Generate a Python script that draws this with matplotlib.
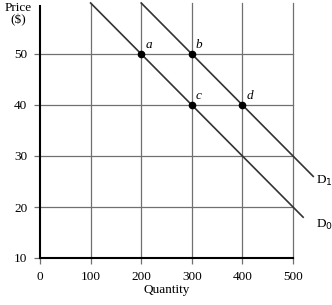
import matplotlib.pyplot as plt

plt.rcParams["font.family"] = ["Liberation Serif", "DejaVu Serif"]

# demand curves (quantity, price)
d0_q = [100, 520]
d0_p = [60, 18]
d1_q = [200, 540]
d1_p = [60, 26]

# labelled points
pt_names = ["a", "b", "c", "d"]
pt_q = [200, 300, 300, 400]
pt_p = [50, 50, 40, 40]

x_ticks = [0, 100, 200, 300, 400, 500]
y_ticks = [10, 20, 30, 40, 50]

fig = plt.figure(figsize=(3.32, 3.05), dpi=100)
ax = fig.add_axes([40 / 332, 1 - 258 / 305, 253 / 332, 255 / 305])
ax.set_xlim(0, 500)
ax.set_ylim(10, 60)

# grid
for q in x_ticks[1:]:
    ax.plot([q, q], [10, 60], color="#707070", lw=0.9, zorder=1, clip_on=False)
for p in y_ticks[1:]:
    ax.plot([0, 500], [p, p], color="#707070", lw=0.9, zorder=1, clip_on=False)

ax.plot(d0_q, d0_p, color="#333333", lw=1.2, clip_on=False, zorder=3)
ax.plot(d1_q, d1_p, color="#333333", lw=1.2, clip_on=False, zorder=3)
ax.plot(pt_q, pt_p, "o", color="black", ms=4.5, zorder=4, clip_on=False)
for n, q, p in zip(pt_names, pt_q, pt_p):
    ax.text(q + 8, p + 0.5, n, style="italic", fontsize=9.5, ha="left", va="bottom")

ax.text(d1_q[-1] + 5, d1_p[-1] - 0.8, "D$_1$", fontsize=9.5, ha="left", va="center")
ax.text(d0_q[-1] + 25, d0_p[-1] - 1.5, "D$_0$", fontsize=9.5, ha="left", va="center")

for s in ("top", "right"):
    ax.spines[s].set_visible(False)
ax.spines["left"].set_bounds(10, 59.5)
ax.spines["left"].set_linewidth(1.5)
ax.spines["bottom"].set_linewidth(1.5)

ax.set_xticks(x_ticks)
ax.set_yticks(y_ticks)
ax.tick_params(direction="out", length=4, width=0.9, color="#707070",
               labelsize=9.5, pad=5)

ax.set_xlabel("Quantity", fontsize=9.5, labelpad=1)
fig.text(18 / 332, 1 - 14 / 305, "Price\n($)", fontsize=9.5, ha="center",
         va="center", linespacing=1.0)

fig.savefig("out.png", dpi=100)
